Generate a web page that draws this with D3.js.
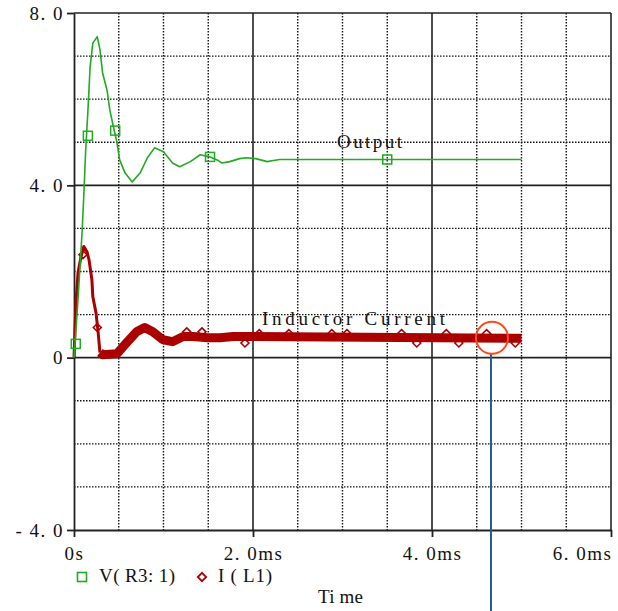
<!DOCTYPE html>
<html>
<head>
<meta charset="utf-8">
<script src="https://cdn.jsdelivr.net/npm/d3@7"></script>
<style>
  html, body { margin: 0; padding: 0; background: #fff; }
  #chart { width: 618px; height: 611px; }
  text { font-family: 'Liberation Serif', 'DejaVu Serif', serif; fill: #111; }
</style>
</head>
<body>
<div id="chart"></div>
<script>
// V(R3:1) - output voltage trace, time in ms
let outTime = [0, 0.045, 0.09, 0.11, 0.13, 0.156, 0.18, 0.21, 0.26, 0.29, 0.32, 0.37, 0.40, 0.44, 0.48, 0.51, 0.57, 0.65, 0.74, 0.82, 0.90, 1.0, 1.1, 1.18, 1.3, 1.41, 1.52, 1.6, 1.65, 1.74, 1.85, 1.92, 2.03, 2.16, 2.21, 2.3, 5.0]
let outValue = [0, 1.35, 2.9, 3.78, 4.8, 5.75, 6.75, 7.3, 7.45, 7.15, 6.6, 6.2, 5.75, 5.36, 4.99, 4.59, 4.29, 4.08, 4.29, 4.64, 4.87, 4.78, 4.52, 4.43, 4.55, 4.71, 4.66, 4.59, 4.52, 4.55, 4.62, 4.64, 4.62, 4.55, 4.57, 4.6, 4.6]
let outMarkTime = [0.02, 0.155, 0.46, 1.52, 3.5]
let outMarkValue = [0.32, 5.15, 5.27, 4.66, 4.6]

// I(L1) - inductor current trace
let curTime = [0, 0.022, 0.045, 0.078, 0.11, 0.145, 0.168, 0.2, 0.21, 0.246, 0.27, 0.29, 0.32, 0.48, 0.59, 0.7, 0.79, 0.88, 0.99, 1.1, 1.22, 1.33, 1.49, 1.63, 1.78, 2.0, 5.0]
let curValue = [0, 1.28, 1.97, 2.34, 2.58, 2.46, 2.27, 1.81, 1.42, 1.04, 0.58, 0.12, 0.07, 0.09, 0.35, 0.6, 0.70, 0.6, 0.42, 0.37, 0.49, 0.49, 0.46, 0.46, 0.49, 0.49, 0.45]
let curMarkTime = [0.1, 0.26, 1.26, 1.43, 1.91, 2.07, 2.40, 2.88, 3.05, 3.66, 3.83, 4.16, 4.30, 4.61, 4.93]
let curMarkValue = [2.39, 0.70, 0.6, 0.6, 0.34, 0.56, 0.56, 0.56, 0.56, 0.56, 0.34, 0.56, 0.34, 0.56, 0.34]

let xTicks = [0, 2, 4, 6]
let xTickLabels = ['0s', '2. 0ms', '4. 0ms', '6. 0ms']
let yTicks = [-4, 0, 4, 8]
let yTickLabels = ['- 4. 0', '0', '4. 0', '8. 0']
let xMinor = [0.5, 1, 1.5, 2.5, 3, 3.5, 4.5, 5, 5.5]
let yMinor = [-3, -2, -1, 1, 2, 3, 5, 6, 7]

let outColor = '#22aa22'
let curColor = '#aa0000'
let gridColor = '#111'
let serif = "'Liberation Serif', 'DejaVu Serif', serif"

let svg = d3.select('#chart').append('svg')
  .attr('width', 618)
  .attr('height', 611)
  .attr('font-family', serif)

let x = d3.scaleLinear().domain([0, 6]).range([74, 611])
let y = d3.scaleLinear().domain([-4, 8]).range([530, 13])

// dotted minor grid
let grid = svg.append('g').attr('class', 'grid')
grid.selectAll('.vminor')
  .data(xMinor)
  .enter()
  .append('line')
  .attr('x1', d => x(d)).attr('x2', d => x(d))
  .attr('y1', y(8)).attr('y2', y(-4))
  .attr('stroke', gridColor)
  .attr('stroke-width', 1.4)
  .attr('stroke-dasharray', '1.5,1.5')
grid.selectAll('.hminor')
  .data(yMinor)
  .enter()
  .append('line')
  .attr('x1', x(0)).attr('x2', x(6))
  .attr('y1', d => y(d)).attr('y2', d => y(d))
  .attr('stroke', gridColor)
  .attr('stroke-width', 1.4)
  .attr('stroke-dasharray', '1.5,1.5')

// solid major grid + frame
grid.selectAll('.vmajor')
  .data(xTicks.slice(1))
  .enter()
  .append('line')
  .attr('x1', d => x(d)).attr('x2', d => x(d))
  .attr('y1', y(8)).attr('y2', y(-4))
  .attr('stroke', '#222')
  .attr('stroke-width', 1.6)
grid.selectAll('.hmajor')
  .data(yTicks.slice(1))
  .enter()
  .append('line')
  .attr('x1', x(0)).attr('x2', x(6))
  .attr('y1', d => y(d)).attr('y2', d => y(d))
  .attr('stroke', '#222')
  .attr('stroke-width', 1.6)

// axes
let yAxis = svg.append('g')
  .attr('transform', 'translate(' + x(0) + ',0)')
  .call(d3.axisLeft(y).tickValues(yTicks).tickSize(7).tickSizeOuter(0).tickPadding(3)
    .tickFormat((d, i) => yTickLabels[i]))
let xAxis = svg.append('g')
  .attr('transform', 'translate(0,' + y(-4) + ')')
  .call(d3.axisBottom(x).tickValues(xTicks).tickSize(7).tickSizeOuter(0).tickPadding(10)
    .tickFormat((d, i) => xTickLabels[i]))
;[xAxis, yAxis].forEach(a => {
  a.attr('font-family', serif).attr('font-size', 19)
  a.select('.domain').attr('stroke', '#222').attr('stroke-width', 1.8)
  a.selectAll('.tick line').attr('stroke', '#222').attr('stroke-width', 1.8)
  a.selectAll('.tick text')
    .attr('fill', '#111')
    .style('letter-spacing', '1.5px')
})
xAxis.selectAll('.tick text').filter((d, i) => i === xTicks.length - 1)
  .attr('text-anchor', 'end')
  .attr('x', 1)

let line = d3.line()
  .x(d => x(d[0]))
  .y(d => y(d[1]))

// inductor current: thin rise, then noisy thick band
let curPts = curTime.map((t, i) => [t, curValue[i]])
svg.append('path')
  .datum(curPts.filter(d => d[0] <= 0.3))
  .attr('d', line)
  .attr('fill', 'none')
  .attr('stroke', curColor)
  .attr('stroke-width', 3)
  .attr('stroke-linejoin', 'round')
svg.append('path')
  .datum(curPts.filter(d => d[0] >= 0.29))
  .attr('d', line)
  .attr('fill', 'none')
  .attr('stroke', curColor)
  .attr('stroke-width', 9)
  .attr('stroke-linejoin', 'round')

svg.selectAll('.cur-mark')
  .data(curMarkTime)
  .enter()
  .append('path')
  .attr('class', 'cur-mark')
  .attr('d', d3.symbol().type(d3.symbolDiamond2).size(40))
  .attr('transform', (d, i) => 'translate(' + x(d) + ',' + y(curMarkValue[i]) + ')')
  .attr('fill', 'none')
  .attr('stroke', curColor)
  .attr('stroke-width', 1.6)

// output voltage
svg.append('path')
  .datum(outTime.map((t, i) => [t, outValue[i]]))
  .attr('d', line)
  .attr('fill', 'none')
  .attr('stroke', outColor)
  .attr('stroke-width', 1.6)
  .attr('stroke-linejoin', 'round')

svg.selectAll('.out-mark')
  .data(outMarkTime)
  .enter()
  .append('rect')
  .attr('class', 'out-mark')
  .attr('x', d => x(d) - 4.5)
  .attr('y', (d, i) => y(outMarkValue[i]) - 4.5)
  .attr('width', 9)
  .attr('height', 9)
  .attr('fill', 'none')
  .attr('stroke', outColor)
  .attr('stroke-width', 1.5)

// trace labels
svg.append('text')
  .attr('x', 337).attr('y', 148)
  .attr('textLength', 65)
  .attr('lengthAdjust', 'spacing')
  .style('font-size', '19px')
  .text('Output')
svg.append('text')
  .attr('x', 262).attr('y', 325)
  .attr('textLength', 183)
  .attr('lengthAdjust', 'spacing')
  .style('font-size', '19px')
  .text('Inductor Current')

// legend
let legend = svg.append('g')
legend.append('rect')
  .attr('x', 77.5).attr('y', 572.5)
  .attr('width', 9).attr('height', 9)
  .attr('fill', 'none')
  .attr('stroke', outColor)
  .attr('stroke-width', 1.6)
legend.append('text')
  .attr('x', 99).attr('y', 582)
  .attr('textLength', 76)
  .attr('lengthAdjust', 'spacing')
  .style('font-size', '19px')
  .text('V( R3: 1)')
legend.append('path')
  .attr('d', d3.symbol().type(d3.symbolDiamond2).size(45))
  .attr('transform', 'translate(202,577)')
  .attr('fill', 'none')
  .attr('stroke', curColor)
  .attr('stroke-width', 1.8)
legend.append('text')
  .attr('x', 218).attr('y', 582)
  .attr('textLength', 54)
  .attr('lengthAdjust', 'spacing')
  .style('font-size', '19px')
  .text('I ( L1)')

svg.append('text')
  .attr('x', 318).attr('y', 603)
  .attr('textLength', 45)
  .attr('lengthAdjust', 'spacing')
  .style('font-size', '19px')
  .text('Ti me')

// annotation: circled point with pointer line
let cx = x(4.67)
let cy = y(0.46)
svg.append('line')
  .attr('x1', cx - 1).attr('x2', cx - 1)
  .attr('y1', cy + 16).attr('y2', 611)
  .attr('stroke', '#2b5a8a')
  .attr('stroke-width', 2)
svg.append('circle')
  .attr('cx', cx).attr('cy', cy)
  .attr('r', 16)
  .attr('fill', 'none')
  .attr('stroke', '#ff4a1a')
  .attr('stroke-width', 2)
</script>
</body>
</html>
